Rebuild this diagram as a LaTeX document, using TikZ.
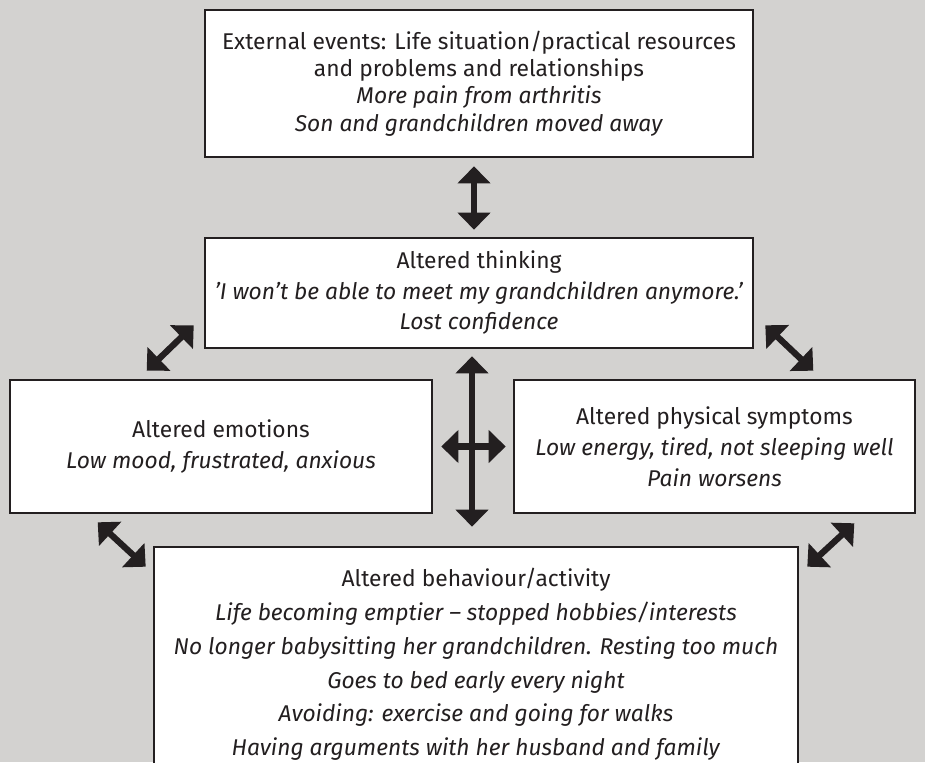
\documentclass[tikz,border=0pt]{standalone}
\usepackage{fontspec}
\setmainfont{Fira Sans}
\usetikzlibrary{arrows.meta}
\definecolor{bgc}{RGB}{211,210,208}
\definecolor{ink}{RGB}{35,31,32}
\tikzset{
  box/.style={draw=ink, line width=2.6pt, fill=white, text=ink, align=center, inner sep=0pt},
  dbl/.style={draw=ink, line width=6.3pt, {Triangle[length=17pt,width=32pt]}-{Triangle[length=17pt,width=32pt]}, ink},
}
\newcommand{\ttl}[1]{#1}
\newcommand{\itl}[1]{\textit{#1}}
\begin{document}
\begin{tikzpicture}[x=1pt,y=-1pt]
\fill[bgc] (0,0) rectangle (925,762);
\useasboundingbox (0,0) rectangle (925,762);
\clip (0,0) rectangle (925,762);

\node[box, minimum width=548pt, minimum height=147pt, font=\fontsize{22.8}{27.3}\selectfont] (ext) at (479,83.5)
 {\ttl{External events: Life situation/practical resources}\\
  \ttl{and problems and relationships}\\
  \itl{More pain from arthritis}\\
  \itl{Son and grandchildren moved away}};

\node[box, minimum width=548pt, minimum height=110pt, font=\fontsize{22.8}{30.5}\selectfont] (think) at (479,293)
 {\ttl{Altered thinking}\\
  \itl{'I won't be able to meet my grandchildren anymore.'}\\
  \itl{Lost confidence}};

\node[box, minimum width=422pt, minimum height=133pt, font=\fontsize{22.8}{31}\selectfont] (emo) at (221,446.5)
 {\ttl{Altered emotions}\\
  \itl{Low mood, frustrated, anxious}};

\node[box, minimum width=401pt, minimum height=133pt, font=\fontsize{22.8}{31}\selectfont] (phys) at (714.5,446.5)
 {\ttl{Altered physical symptoms}\\
  \itl{Low energy, tired, not sleeping well}\\
  \itl{Pain worsens}};

\node[box, minimum width=644pt, minimum height=235pt, font=\fontsize{22.8}{33.8}\selectfont] (beh) at (476,664.5)
 {\ttl{Altered behaviour/activity}\\
  \itl{Life becoming emptier -- stopped hobbies/interests}\\
  \itl{No longer babysitting her grandchildren. Resting too much}\\
  \itl{Goes to bed early every night}\\
  \itl{Avoiding: exercise and going for walks}\\
  \itl{Having arguments with her husband and family}};

% connectors
\draw[dbl] ([xshift=-5pt,yshift=-8pt]ext.south) -- ([xshift=-5pt,yshift=7pt]think.north);
\draw[dbl] ([xshift=-7pt,yshift=-7pt]think.south) -- ([xshift=-4pt,yshift=19pt]beh.north);
\draw[dbl] ([xshift=8pt]emo.east) -- ([xshift=-7pt]phys.west);
\draw[dbl] ([xshift=138pt,yshift=8pt]emo.north west) -- ([xshift=-10pt,yshift=24pt]think.south west);
\draw[dbl] ([xshift=11pt,yshift=24pt]think.south east) -- ([xshift=-103pt,yshift=8pt]phys.north east);
\draw[dbl] ([xshift=89pt,yshift=-8pt]emo.south west) -- ([xshift=-7pt,yshift=-21pt]beh.north west);
\draw[dbl] ([xshift=-62pt,yshift=-9pt]phys.south east) -- ([xshift=8pt,yshift=-21pt]beh.north east);
\end{tikzpicture}
\end{document}
